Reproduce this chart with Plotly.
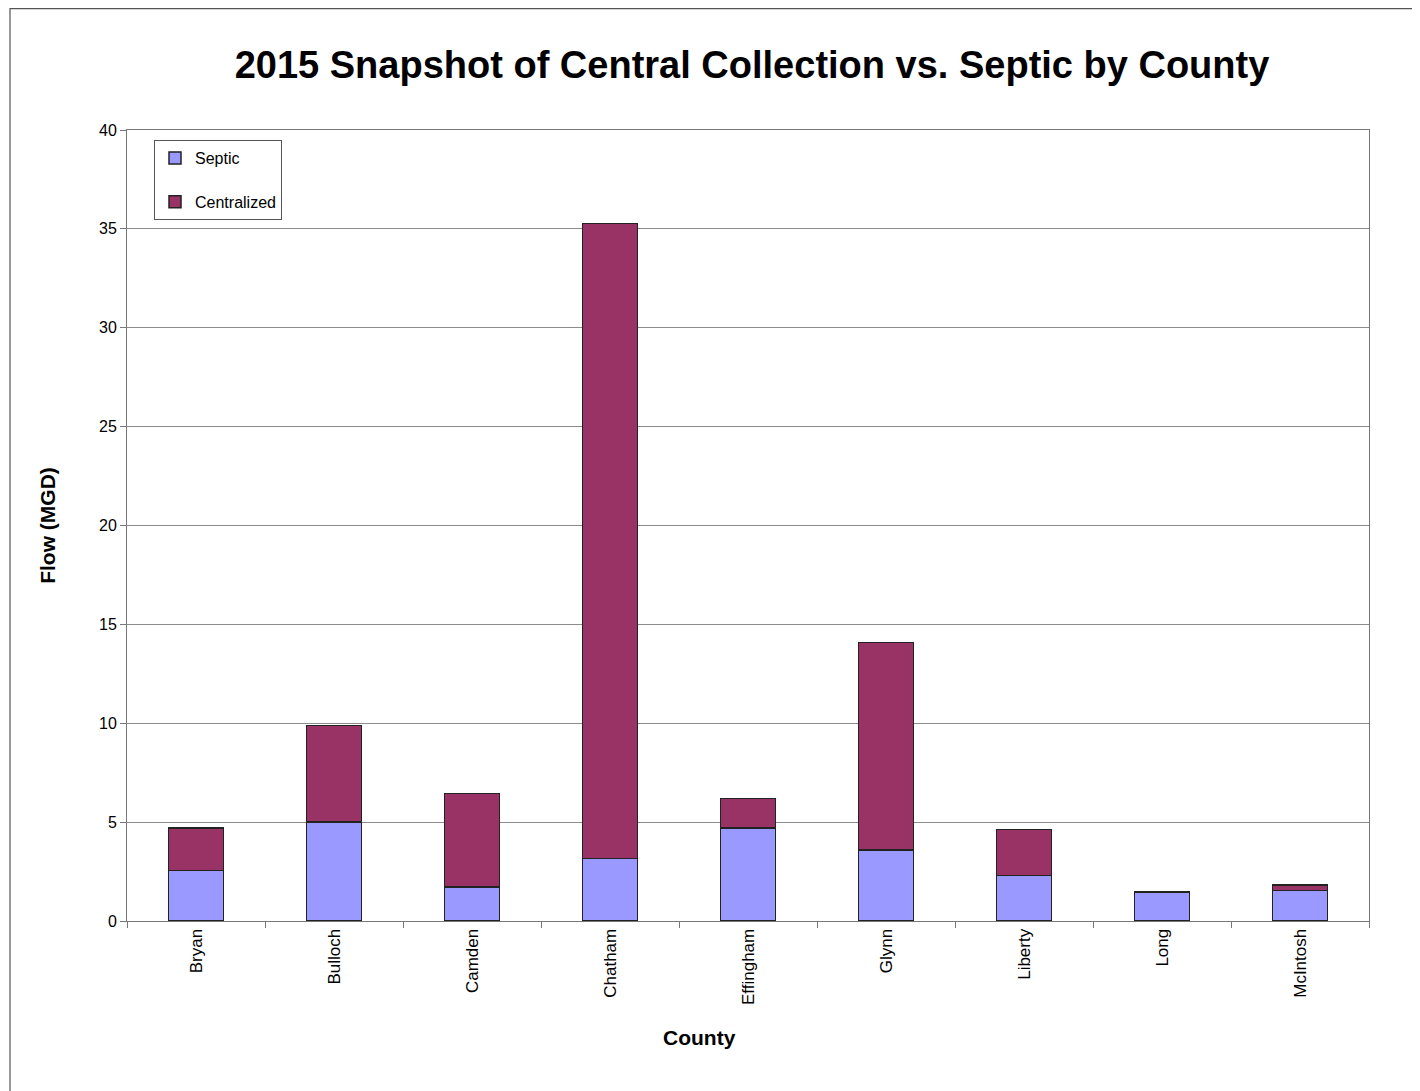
import plotly.graph_objects as go

counties = ["Bryan", "Bulloch", "Camden", "Chatham", "Effingham", "Glynn", "Liberty", "Long", "McIntosh"]
septic = [2.55, 5.01, 1.71, 3.16, 4.71, 3.58, 2.30, 1.45, 1.53]
centralized = [2.16, 4.87, 4.73, 32.12, 1.48, 10.51, 2.32, 0.02, 0.28]

FONT = "Liberation Sans, Arial, sans-serif"

fig = go.Figure()
fig.add_trace(go.Bar(x=counties, y=septic, name="Septic", legendgroup="a",
                     marker=dict(color="#9999ff", line=dict(color="#222222", width=1.5)), width=0.4))
fig.add_trace(go.Bar(x=counties, y=centralized, name="Centralized", legendgroup="b",
                     marker=dict(color="#993366", line=dict(color="#222222", width=1.5)), width=0.4))

OFF = 8  # page body margin
W, H = 1420, 1091
L, R, T, B = 119, 59, 122, 178
pw, ph = W - L - R, H - T - B

def px(x):
    return (x - OFF - L) / pw

def py(y):
    return (H - B - (y - OFF)) / ph

fig.update_layout(
    width=W, height=H, barmode="stack",
    paper_bgcolor="white", plot_bgcolor="white",
    margin=dict(l=L, r=R, t=T, b=B),
    font=dict(family=FONT, color="black"),
    title=dict(text="<b>2015 Snapshot of Central Collection vs. Septic by County</b>",
               x=px(752), xanchor="center", xref="paper", y=1 - (65 - OFF) / H, yanchor="middle",
               font=dict(size=38, family=FONT, color="black")),
    showlegend=True,
    legend=dict(x=px(154), y=py(140), xanchor="left", yanchor="top",
                bordercolor="#555555", borderwidth=1, bgcolor="white",
                font=dict(size=16, family=FONT), traceorder="grouped", tracegroupgap=20,
                itemwidth=30),
    xaxis=dict(tickangle=-90, tickfont=dict(size=17), ticks="outside", tickson="boundaries",
               ticklen=6, tickcolor="#777777", showline=True, linecolor="#777777", linewidth=1,
               mirror=True, showgrid=False),
    yaxis=dict(title=dict(text="<b>Flow (MGD)</b>", font=dict(size=21), standoff=37),
               range=[0, 40], dtick=5, tickfont=dict(size=16), ticks="outside", ticklen=6,
               tickcolor="#777777", showline=True, linecolor="#777777", linewidth=1, mirror=True,
               showgrid=True, gridcolor="#8c8c8c", gridwidth=1, zeroline=False),
    annotations=[dict(text="<b>County</b>", xref="paper", yref="paper", x=px(699), y=py(1037),
                      xanchor="center", yanchor="middle", showarrow=False,
                      font=dict(size=21, family=FONT, color="black"))],
    shapes=[dict(type="rect", xref="paper", yref="paper", x0=px(10), x1=px(1440),
                 y0=py(1110), y1=py(8.6), line=dict(color="#555555", width=1.2), layer="below")],
)

fig.write_html("out.html")
